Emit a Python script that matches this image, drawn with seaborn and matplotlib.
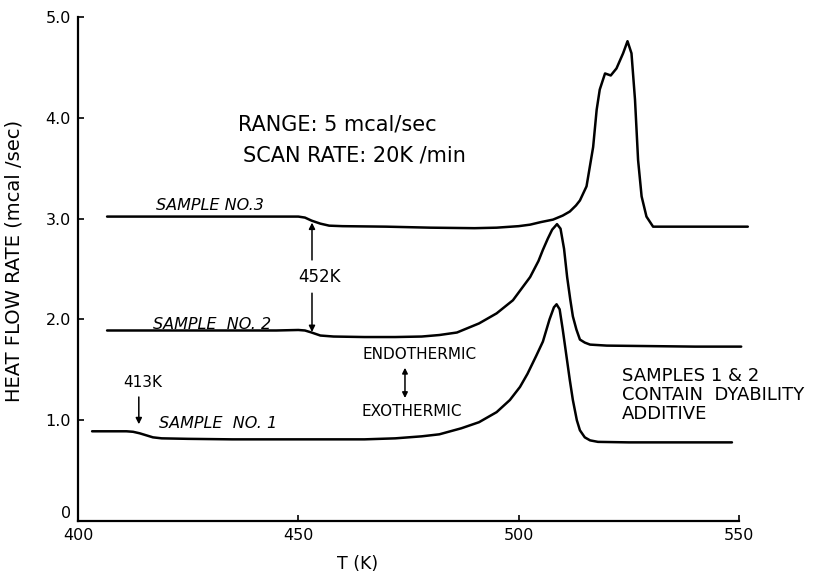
import matplotlib
matplotlib.use("Agg")
import matplotlib.pyplot as plt
import seaborn as sns
import pandas as pd

# ---- data ----
s1_T = [403.2, 407, 411, 412.5, 414, 415.5, 417, 419, 425, 435, 445, 455, 465, 472, 478, 482,
        487, 491, 495, 498, 500.3, 502, 504, 505.5, 507, 508, 508.6, 509.3, 510, 510.8, 511.6,
        512.3, 513.2, 513.9, 515, 516.2, 518, 525, 535, 548.4]
s1_Q = [0.89, 0.89, 0.89, 0.885, 0.87, 0.85, 0.83, 0.82, 0.815, 0.81, 0.81, 0.81, 0.81, 0.82, 0.84, 0.86,
        0.92, 0.98, 1.08, 1.20, 1.33, 1.46, 1.64, 1.78, 2.00, 2.12, 2.15, 2.10, 1.90, 1.65, 1.40,
        1.20, 1.00, 0.90, 0.83, 0.80, 0.785, 0.78, 0.78, 0.78]

s2_T = [406.6, 420, 435, 445, 450, 451.5, 453, 455, 458, 465, 472, 478, 482, 486, 491, 495, 498.7,
        502.6, 504.5, 505.5, 506.6, 507.6, 508.7, 509.5, 510.3, 511, 511.7, 512.3, 513.1, 513.9,
        515, 516.2, 520, 530, 540, 550.5]
s2_Q = [1.89, 1.89, 1.89, 1.89, 1.895, 1.89, 1.87, 1.84, 1.83, 1.825, 1.825, 1.83, 1.845, 1.87, 1.96, 2.06, 2.19,
        2.42, 2.58, 2.69, 2.80, 2.89, 2.945, 2.90, 2.70, 2.42, 2.20, 2.03, 1.90, 1.80,
        1.77, 1.75, 1.74, 1.735, 1.73, 1.73]

s3_T = [406.6, 420, 435, 445, 450, 451.5, 453, 455, 457, 460, 470, 480, 490, 495, 500, 502.6, 505,
        507.8, 510, 511.6, 513, 513.9, 515.4, 516.9, 517.7, 518.4, 519.6, 520.9, 522.2, 523.7,
        524.7, 525.6, 526.4, 527.1, 527.9, 529.0, 530.5, 532, 540, 552]
s3_Q = [3.02, 3.02, 3.02, 3.02, 3.02, 3.01, 2.98, 2.95, 2.93, 2.925, 2.92, 2.91, 2.905, 2.91, 2.925, 2.94, 2.965,
        2.99, 3.03, 3.07, 3.13, 3.18, 3.32, 3.71, 4.08, 4.28, 4.44, 4.42, 4.49, 4.64,
        4.76, 4.64, 4.18, 3.58, 3.22, 3.02, 2.92, 2.92, 2.92, 2.92]

x_ticks = [400, 450, 500, 550]
y_ticks = [0, 1, 2, 3, 4, 5]
y_tick_labels = ["0", "1.0", "2.0", "3.0", "4.0", "5.0"]

sns.set_style("ticks")
plt.rcParams["font.family"] = ["DejaVu Sans"]
for k in ["text.color", "axes.labelcolor", "xtick.color", "ytick.color", "axes.edgecolor"]:
    plt.rcParams[k] = "black"

fig = plt.figure(figsize=(8.13, 5.74), dpi=100)
ax = fig.add_axes([78 / 813, 53 / 574, (739 - 78) / 813, (521 - 17) / 574])

for T, Q in [(s1_T, s1_Q), (s2_T, s2_Q), (s3_T, s3_Q)]:
    df = pd.DataFrame({"T": T, "Q": Q})
    sns.lineplot(data=df, x="T", y="Q", ax=ax, color="black", lw=1.8,
                 sort=False, estimator=None, clip_on=False)

ax.set_xlim(400, 550)
ax.set_ylim(0, 5.0)
ax.set_xticks(x_ticks)
ax.set_yticks(y_ticks)
ax.set_yticklabels(y_tick_labels)
ax.tick_params(direction="in", length=4, width=1.2, labelsize=11.5, color="black")
ax.tick_params(axis="x", pad=5)
ax.tick_params(axis="y", pad=5)
ax.get_yticklabels()[0].set_va("bottom")
for s in ["top", "right"]:
    ax.spines[s].set_visible(False)
for s in ["left", "bottom"]:
    ax.spines[s].set_linewidth(1.6)
    ax.spines[s].set_color("black")

ax.set_xlabel("T (K)", fontsize=12.5)
ax.xaxis.set_label_coords((358 - 78) / (739 - 78), -(555 - 521) / 504)
ax.set_ylabel("HEAT FLOW RATE (mcal /sec)", fontsize=14)
ax.yaxis.set_label_coords(-55 / 661, 0.516)

# annotations
ax.text(436.3, 3.93, "RANGE: 5 mcal/sec", fontsize=15, va="center", ha="left")
ax.text(437.5, 3.63, "SCAN RATE: 20K /min", fontsize=15, va="center", ha="left")

ax.text(430.0, 3.13, "SAMPLE NO.3", fontsize=11.5, style="italic", ha="center", va="center")
ax.text(430.4, 1.95, "SAMPLE  NO. 2", fontsize=11.5, style="italic", ha="center", va="center")
ax.text(431.8, 0.97, "SAMPLE  NO. 1", fontsize=11.5, style="italic", ha="center", va="center")

aprops = dict(arrowstyle="-|>", color="black", lw=1.1, mutation_scale=9, shrinkA=0, shrinkB=0)
ax.text(454.9, 2.42, "452K", fontsize=12, ha="center", va="center")
ax.annotate("", xy=(453.1, 2.96), xytext=(453.1, 2.59), arrowprops=aprops)
ax.annotate("", xy=(453.1, 1.875), xytext=(453.1, 2.26), arrowprops=aprops)

ax.text(414.7, 1.37, "413K", fontsize=11, ha="center", va="center")
ax.annotate("", xy=(413.8, 0.96), xytext=(413.8, 1.23), arrowprops=aprops)

ax.text(477.6, 1.65, "ENDOTHERMIC", fontsize=11, ha="center", va="center")
ax.text(475.8, 1.09, "EXOTHERMIC", fontsize=11, ha="center", va="center")
ax.annotate("", xy=(474.2, 1.52), xytext=(474.2, 1.22),
            arrowprops=dict(arrowstyle="<|-|>", color="black", lw=1.1, mutation_scale=8,
                            shrinkA=0, shrinkB=0))

ax.text(523.4, 1.25, "SAMPLES 1 & 2\nCONTAIN  DYABILITY\nADDITIVE", fontsize=13,
        ha="left", va="center", linespacing=1.05)

fig.savefig("out.png", dpi=100)
